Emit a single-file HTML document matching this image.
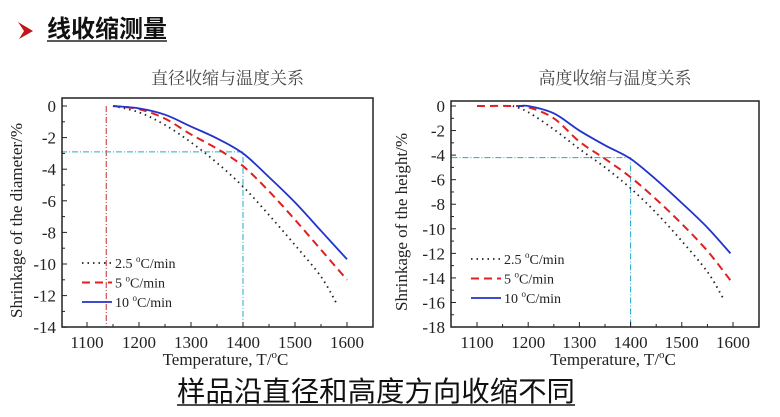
<!DOCTYPE html>
<html><head><meta charset="utf-8"><style>
html,body{margin:0;padding:0;background:#fff;}
svg{display:block;}
</style></head><body>
<svg id="s" width="780" height="417" xmlns="http://www.w3.org/2000/svg" font-family="'Liberation Serif','Noto Serif CJK SC',serif">
<polygon points="18,22 33,31 19,39 24,31" fill="#c0161b"/>
<text x="47" y="37" font-family="'Liberation Sans','Noto Sans CJK SC',sans-serif" font-size="24" font-weight="bold" fill="#111">线收缩测量</text>
<line x1="47" y1="41" x2="167" y2="41" stroke="#222" stroke-width="1.5"/>
<text x="376" y="401" text-anchor="middle" font-family="'Liberation Sans','Noto Sans CJK SC',sans-serif" font-size="28" fill="#111" textLength="398" lengthAdjust="spacingAndGlyphs">样品沿直径和高度方向收缩不同</text>
<line x1="177" y1="405" x2="575" y2="405" stroke="#111" stroke-width="1.5"/>
<g id="g"></g>
</svg>
<script>
const g=document.getElementById('g');let h='';
function chart(o){
 const X=t=>o.x0+(t-1100)*o.kx, Y=v=>o.y0-v*o.ky;
 const L=o.left,R=o.right,T=o.top,B=o.bot;
 h+=`<text x="${(L+R)/2+10}" y="84" text-anchor="middle" font-size="17" fill="#444">${o.title}</text>`;
 o.refs.forEach(r=>h+=`<polyline points="${r.map(p=>X(p[0])+','+Y(p[1])).join(' ')}" fill="none" stroke="${r.c}" stroke-width="1" stroke-dasharray="6,2,1,2"/>`);
 const styles={k:['#222','1.8','1.5,4'],r:['#e02020','2','8,5'],b:['#2233cc','1.8','']};
 o.series.forEach(s=>{const st=styles[s.t];
  let d='M'+X(s.p[0][0])+','+Y(s.p[0][1]);
  for(let i=1;i<s.p.length;i++){const p0=s.p[Math.max(i-2,0)],p1=s.p[i-1],p2=s.p[i],p3=s.p[Math.min(i+1,s.p.length-1)];
   const c1=[p1[0]+(p2[0]-p0[0])/6,p1[1]+(p2[1]-p0[1])/6],c2=[p2[0]-(p3[0]-p1[0])/6,p2[1]-(p3[1]-p1[1])/6];
   d+=` C${X(c1[0])},${Y(c1[1])} ${X(c2[0])},${Y(c2[1])} ${X(p2[0])},${Y(p2[1])}`;}
  h+=`<path d="${d}" fill="none" stroke="${st[0]}" stroke-width="${st[1]}" ${st[2]?'stroke-dasharray="'+st[2]+'"':''}/>`;});
 h+=`<rect x="${L}" y="${T}" width="${R-L}" height="${B-T}" fill="none" stroke="#222" stroke-width="1.5"/>`;
 for(let t=1100;t<=1600;t+=100){h+=`<line x1="${X(t)}" y1="${B}" x2="${X(t)}" y2="${B-5}" stroke="#222"/><text x="${X(t)}" y="${B+21}" text-anchor="middle" font-size="17" fill="#222">${t}</text>`;
  if(t<1600)h+=`<line x1="${X(t+50)}" y1="${B}" x2="${X(t+50)}" y2="${B-3}" stroke="#222"/>`;}
 for(let v=0;v>=o.ymin;v-=2){h+=`<line x1="${L}" y1="${Y(v)}" x2="${L+5}" y2="${Y(v)}" stroke="#222"/><text x="${L-6}" y="${Y(v)+6}" text-anchor="end" font-size="17" fill="#222">${v}</text>`;
  if(v>o.ymin)h+=`<line x1="${L}" y1="${Y(v-1)}" x2="${L+3}" y2="${Y(v-1)}" stroke="#222"/>`;}
 h+=`<text x="${(L+R)/2+8}" y="${B+38}" text-anchor="middle" font-size="17" fill="#222">Temperature, T/<tspan dy="-7" font-size="11">o</tspan><tspan dy="7">C</tspan></text>`;
 h+=`<text transform="translate(${L-o.yl},${(T+B)/2+8}) rotate(-90)" text-anchor="middle" font-size="17" fill="#222">${o.ylab}</text>`;
 const lx=L+20;[['k','2.5 '],['r','5 '],['b','10 ']].forEach((e,i)=>{const y=o.legy+i*19.5;const st=styles[e[0]];
  h+=`<line x1="${lx}" y1="${y}" x2="${lx+30}" y2="${y}" stroke="${st[0]}" stroke-width="${st[1]}" ${st[2]?'stroke-dasharray="'+st[2]+'"':''}/><text x="${lx+33}" y="${y+5}" font-size="14" fill="#222">${e[1]}<tspan dy="-6" font-size="9">o</tspan><tspan dy="6">C/min</tspan></text>`;});
}
chart({left:62,right:373,top:98,bot:327,x0:87,kx:0.52,y0:106,ky:15.8,ymin:-14,yl:40,title:'直径收缩与温度关系',ylab:'Shrinkage of the diameter/%',legy:263,
 refs:[Object.assign([[1137,0],[1137,-14]],{c:'#c03030'}),Object.assign([[1050,-2.9],[1400,-2.9],[1400,-14]],{c:'#22aacc'})],
 series:[{t:'k',p:[[1150,0],[1200,-0.4],[1250,-1.2],[1300,-2.3],[1350,-3.6],[1400,-5.1],[1450,-6.9],[1500,-8.8],[1550,-10.8],[1580,-12.5]]},
 {t:'r',p:[[1150,0],[1200,-0.2],[1250,-0.8],[1300,-1.8],[1350,-2.7],[1400,-3.8],[1450,-5.4],[1500,-7.2],[1550,-9.1],[1600,-11]]},
 {t:'b',p:[[1150,0],[1200,-0.15],[1250,-0.55],[1300,-1.3],[1350,-2.05],[1400,-3],[1450,-4.5],[1500,-6.1],[1550,-7.9],[1600,-9.7]]}]});
chart({left:451,right:759,top:101,bot:327,x0:477,kx:0.512,y0:106,ky:12.28,ymin:-18,yl:44,title:'高度收缩与温度关系',ylab:'Shrinkage of the height/%',legy:259,
 refs:[Object.assign([[1050,-4.2],[1400,-4.2],[1400,-18]],{c:'#22aacc'})],
 series:[{t:'k',p:[[1170,0],[1200,-0.5],[1250,-1.9],[1300,-3.5],[1350,-5.0],[1400,-6.7],[1450,-8.7],[1500,-11],[1550,-13.5],[1580,-15.6]]},
 {t:'r',p:[[1100,0],[1170,0],[1200,-0.1],[1250,-1.0],[1300,-2.9],[1350,-4.3],[1400,-5.8],[1450,-7.6],[1500,-9.6],[1550,-11.8],[1595,-14.2]]},
 {t:'b',p:[[1180,-0.05],[1200,0],[1250,-0.6],[1300,-2],[1350,-3.2],[1400,-4.3],[1450,-6],[1500,-7.9],[1550,-9.9],[1595,-12]]}]});
g.innerHTML=h;
</script>
</body></html>
